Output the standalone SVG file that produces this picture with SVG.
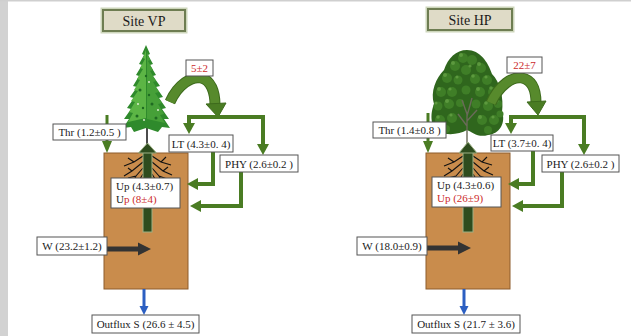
<svg xmlns="http://www.w3.org/2000/svg" width="631" height="336" viewBox="0 0 631 336">
<defs>
<style>
.t{font-family:"Liberation Serif","Times New Roman",serif;font-size:11px;fill:#1a1a1a}
.st{font-family:"Liberation Serif","Times New Roman",serif;font-size:14px;fill:#1a1a1a}
.red{fill:#cc2a2a}
.box{fill:#ffffff;stroke:#555;stroke-width:1}
.site{fill:#dfdbc7;stroke:#6e7d52;stroke-width:2}
.glow{fill:none;stroke:#cdd6bb;stroke-width:5}
.soil{fill:#c98c4c;stroke:#8d5c2c;stroke-width:1}
.stem{fill:#2e4c1e;stroke:#9db084;stroke-width:1}
.g{fill:none;stroke:#4a7c23;stroke-width:4}
.gt{fill:none;stroke:#4a7c23;stroke-width:3}
.gh{fill:#4a7c23}
.bk{fill:none;stroke:#333;stroke-width:5}
.bkh{fill:#333}
.bl{fill:none;stroke:#2c5fc2;stroke-width:3}
.blh{fill:#2c5fc2}
.curve{fill:none;stroke:#578a2c;stroke-width:9}
.curveo{fill:none;stroke:#3d6a1c;stroke-width:11}
.root{fill:none;stroke:#111;stroke-width:1.1}
.lf1{fill:#2f661d}
.lf2{fill:#3f7e27}
.lf3{fill:#64a044;opacity:0.8}
</style>
</defs>
<rect width="631" height="336" fill="#ffffff"/>
<rect x="0" y="0" width="8" height="336" fill="#d2d2d2"/>
<rect x="0" y="0" width="631" height="1.5" fill="#cfcfcf"/>

<!-- ===== Left panel: Site VP ===== -->
<g id="site-vp">
<rect class="glow" x="103" y="10" width="82" height="21"/>
<rect class="site" x="103" y="10" width="82" height="21"/>
<text class="st" x="144" y="25.5" text-anchor="middle">Site VP</text>
</g>

<g id="soil-vp">
<rect class="soil" x="104" y="153" width="84" height="136"/>
</g>

<g id="tree-vp">
<line x1="147" y1="128" x2="147" y2="145" stroke="#111" stroke-width="1.5"/>
<polygon fill="#2f8a2c" points="146,45 142,54 144,55 139,64 142,65 136,75 139,76 133,86 137,87 130,97 134,98 127,108 131,109 124,119 129,119 123,128 131,127 134,132 146,128 158,132 162,127 170,128 164,119 169,119 162,109 166,108 159,98 163,97 156,87 160,86 153,76 156,75 150,65 153,64 148,55 150,54"/>
<polygon fill="#5cb545" points="146,50 143,58 145,59 140,68 143,69 137,79 140,80 134,90 138,91 131,101 135,102 129,112 133,113 128,122 146,118"/>
<polygon fill="#46a038" points="147,52 150,60 148,61 153,70 150,71 156,81 153,82 159,92 155,93 162,103 158,104 164,114 160,115 165,123 147,119"/>
<g fill="#1f6a22">
<circle cx="140" cy="90" r="1.5"/><circle cx="152" cy="104" r="1.5"/><circle cx="137" cy="116" r="1.5"/><circle cx="156" cy="118" r="1.5"/><circle cx="146" cy="76" r="1.2"/><circle cx="149" cy="95" r="1.2"/><circle cx="143" cy="108" r="1.2"/>
</g>
<g fill="#e9f5dd">
<circle cx="149" cy="82" r="0.9"/><circle cx="138" cy="104" r="0.9"/><circle cx="158" cy="110" r="0.9"/><circle cx="144" cy="120" r="0.9"/>
</g>
</g>

<g id="roots-vp">
<path class="root" d="M143,156 L134,162 L124,166 M134,162 L128,158 M143,162 L132,171 L124,176 M132,171 L128,168 M143,168 L136,176 L132,184 M136,176 L128,178 M143,174 L138,182"/>
<path class="root" d="M152,156 L161,162 L171,165 M161,162 L166,157 M152,162 L163,171 L172,175 M163,171 L168,167 M152,168 L159,176 L163,184 M159,176 L167,179 M152,174 L157,182"/>
</g>

<g id="stem-vp">
<rect class="stem" x="143" y="152" width="9" height="80"/>
<polygon fill="#2e4c1e" stroke="#9db084" stroke-width="1" points="138.5,153 147.5,143 156.5,153"/>
</g>

<g id="connectors-vp">
<line class="gt" x1="107" y1="115" x2="107" y2="142"/>
<polygon class="gh" points="102,141 112,141 107,153"/>
<path class="curveo" d="M170,102 C178,84 192,76 201,78 C211,80 215,92 215,105"/>
<path class="curve" d="M170,102 C178,84 192,76 201,78 C211,80 215,92 215,105"/>
<polygon class="gh" stroke="#3d6a1c" stroke-width="1" points="206,104 226,103 218,117"/>
<polyline class="g" points="189,124 189,117 263,117 263,146"/>
<polygon class="gh" points="183,123 195,123 189,134"/>
<polygon class="gh" points="257,144 269,144 263,155"/>
<polyline class="g" points="213,152 213,184 197,184"/>
<polygon class="gh" points="198,178 198,190 187,184"/>
<polyline class="g" points="241,172 241,206 200,206"/>
<polygon class="gh" points="201,200 201,212 190,206"/>
<line class="bk" x1="107" y1="249" x2="139" y2="249"/>
<polygon class="bkh" points="138,242.5 138,255.5 151,249"/>
<line class="bl" x1="144" y1="289" x2="144" y2="307"/>
<polygon class="blh" points="139.5,306 148.5,306 144,315"/>
</g>

<g id="thr-vp">
<rect class="box" x="53" y="124" width="73" height="16"/>
<text class="t" x="89.5" y="136" text-anchor="middle">Thr (1.2±0.5 )</text>
</g>
<g id="lit-vp">
<rect class="box" x="186" y="60" width="27" height="16"/>
<text class="t red" x="199.5" y="72" text-anchor="middle">5±2</text>
</g>
<g id="lt-vp">
<rect class="box" x="169" y="135" width="64" height="17"/>
<text class="t" x="201" y="147.5" text-anchor="middle">LT (4.3±0. 4)</text>
</g>
<g id="phy-vp">
<rect class="box" x="220" y="155" width="78" height="17"/>
<text class="t" x="259" y="167.5" text-anchor="middle">PHY (2.6±0.2 )</text>
</g>
<g id="up-vp">
<rect class="box" x="111" y="178" width="69" height="30"/>
<text class="t" x="116" y="190">Up (4.3±0.7)</text>
<text class="t" x="116" y="203">U<tspan class="red">p (8±4)</tspan></text>
</g>
<g id="w-vp">
<rect class="box" x="37" y="237" width="70" height="18"/>
<text class="t" x="72" y="250" text-anchor="middle">W (23.2±1.2)</text>
</g>
<g id="out-vp">
<rect class="box" x="92" y="315" width="107" height="18"/>
<text class="t" x="145.5" y="328" text-anchor="middle">Outflux S (26.6 ± 4.5)</text>
</g>

<!-- ===== Right panel: Site HP ===== -->
<g id="site-hp">
<rect class="glow" x="428" y="9" width="84" height="21"/>
<rect class="site" x="428" y="9" width="84" height="21"/>
<text class="st" x="470" y="24.5" text-anchor="middle">Site HP</text>
</g>

<g id="soil-hp">
<rect class="soil" x="426" y="153" width="84" height="136"/>
</g>

<g id="tree-hp">
<path class="lf1" d="M467,50 C480,50 488,62 492,74 C500,82 504,98 502,112 C506,122 500,134 488,135 C478,138 472,132 467,130 C460,134 448,136 440,132 C430,128 430,114 434,104 C430,92 436,78 444,70 C448,58 456,50 467,50 Z"/>
<g class="lf2">
<circle cx="463" cy="58" r="5"/><circle cx="472" cy="60" r="5"/><circle cx="455" cy="66" r="5"/><circle cx="481" cy="68" r="5"/><circle cx="466" cy="70" r="5"/>
<circle cx="447" cy="78" r="5"/><circle cx="458" cy="80" r="4.5"/><circle cx="475" cy="79" r="5"/><circle cx="487" cy="80" r="5"/>
<circle cx="441" cy="92" r="5"/><circle cx="452" cy="92" r="5"/><circle cx="466" cy="90" r="4.5"/><circle cx="480" cy="92" r="5"/><circle cx="493" cy="92" r="5"/>
<circle cx="438" cy="106" r="4.5"/><circle cx="449" cy="104" r="5"/><circle cx="460" cy="103" r="4"/><circle cx="476" cy="104" r="4.5"/><circle cx="488" cy="106" r="5"/><circle cx="498" cy="104" r="4"/>
<circle cx="440" cy="120" r="5"/><circle cx="452" cy="118" r="5"/><circle cx="482" cy="120" r="5"/><circle cx="494" cy="120" r="5"/><circle cx="500" cy="114" r="3.5"/>
<circle cx="446" cy="129" r="4"/><circle cx="488" cy="130" r="4"/>
</g>
<g class="lf3">
<circle cx="461" cy="55" r="2"/><circle cx="453" cy="63" r="2"/><circle cx="470" cy="66" r="1.6"/><circle cx="479" cy="64" r="2"/>
<circle cx="445" cy="75" r="2"/><circle cx="473" cy="76" r="1.8"/><circle cx="486" cy="77" r="1.6"/><circle cx="457" cy="77" r="1.6"/>
<circle cx="439" cy="89" r="2"/><circle cx="450" cy="89" r="1.6"/><circle cx="478" cy="89" r="2"/><circle cx="491" cy="88" r="1.8"/>
<circle cx="436" cy="103" r="1.6"/><circle cx="447" cy="101" r="2"/><circle cx="486" cy="103" r="1.8"/><circle cx="497" cy="101" r="1.6"/>
<circle cx="438" cy="117" r="1.8"/><circle cx="451" cy="115" r="1.6"/><circle cx="480" cy="117" r="2"/><circle cx="493" cy="117" r="1.6"/>
</g>
<path d="M467,145 L467,112 M467,126 L458,114 M467,121 L477,110 M467,114 L462,100 M467,116 L472,98" stroke="#6a6a58" stroke-width="1.4" fill="none"/>
</g>

<g id="roots-hp">
<path class="root" d="M463,156 L454,162 L444,166 M454,162 L448,158 M463,162 L452,171 L444,176 M452,171 L448,168 M463,168 L456,176 L452,184 M456,176 L448,178 M463,174 L458,182"/>
<path class="root" d="M473,156 L482,162 L492,165 M482,162 L487,157 M473,162 L484,171 L493,175 M484,171 L489,167 M473,168 L480,176 L484,184 M480,176 L488,179 M473,174 L478,182"/>
</g>

<g id="stem-hp">
<rect class="stem" x="463" y="152" width="10" height="80"/>
<polygon fill="#2e4c1e" stroke="#9db084" stroke-width="1" points="459,153 468,142 477,153"/>
</g>

<g id="connectors-hp">
<line class="gt" x1="428" y1="113" x2="428" y2="142"/>
<polygon class="gh" points="423,141 433,141 428,153"/>
<path class="curveo" d="M491,103 C499,85 513,76 522,78 C532,80 536,90 536,103"/>
<path class="curve" d="M491,103 C499,85 513,76 522,78 C532,80 536,90 536,103"/>
<polygon class="gh" stroke="#3d6a1c" stroke-width="1" points="527,102 546,101 538,115"/>
<polyline class="g" points="511,124 511,117 584,117 584,146"/>
<polygon class="gh" points="505,123 517,123 511,134"/>
<polygon class="gh" points="578,144 590,144 584,155"/>
<polyline class="g" points="533,150 533,184 518,184"/>
<polygon class="gh" points="519,178 519,190 508,184"/>
<polyline class="g" points="562,172 562,206 522,206"/>
<polygon class="gh" points="523,200 523,212 512,206"/>
<line class="bk" x1="427" y1="248" x2="459" y2="248"/>
<polygon class="bkh" points="458,241.5 458,254.5 471,248"/>
<line class="bl" x1="464" y1="289" x2="464" y2="307"/>
<polygon class="blh" points="459.5,306 468.5,306 464,315"/>
</g>

<g id="thr-hp">
<rect class="box" x="373" y="122" width="73" height="16"/>
<text class="t" x="409.5" y="134" text-anchor="middle">Thr (1.4±0.8 )</text>
</g>
<g id="lit-hp">
<rect class="box" x="507" y="57" width="35" height="16"/>
<text class="t red" x="524.5" y="69" text-anchor="middle">22±7</text>
</g>
<g id="lt-hp">
<rect class="box" x="491" y="135" width="62" height="16"/>
<text class="t" x="522" y="147" text-anchor="middle">LT (3.7±0. 4)</text>
</g>
<g id="phy-hp">
<rect class="box" x="542" y="155" width="77" height="17"/>
<text class="t" x="580.5" y="167.5" text-anchor="middle">PHY (2.6±0.2 )</text>
</g>
<g id="up-hp">
<rect class="box" x="432" y="177" width="69" height="30"/>
<text class="t" x="437" y="189">Up (4.3±0.6)</text>
<text class="t red" x="437" y="202">Up (26±9)</text>
</g>
<g id="w-hp">
<rect class="box" x="357" y="237" width="70" height="18"/>
<text class="t" x="392" y="250" text-anchor="middle">W (18.0±0.9)</text>
</g>
<g id="out-hp">
<rect class="box" x="412" y="315" width="108" height="18"/>
<text class="t" x="466" y="328" text-anchor="middle">Outflux S (21.7 ± 3.6)</text>
</g>
</svg>
